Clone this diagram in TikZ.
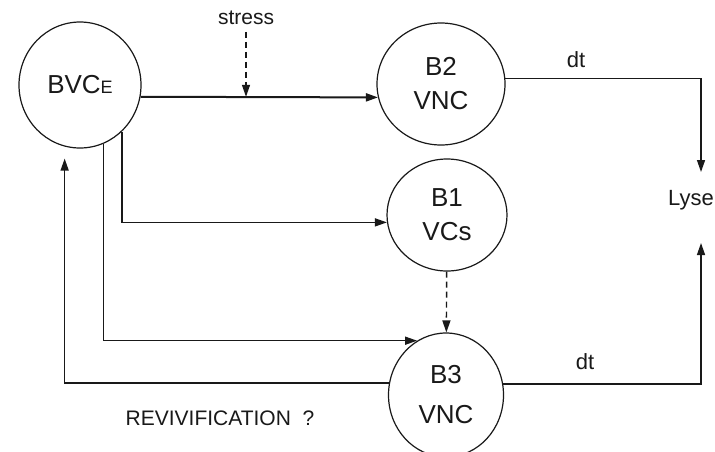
\documentclass[tikz,border=0pt]{standalone}
\usepackage{fontspec}
\setmainfont{Liberation Sans}
\usetikzlibrary{arrows.meta,positioning,calc,shapes.geometric}
\definecolor{ink}{RGB}{25,25,25}
\tikzset{
  cell/.style={draw=ink,ellipse,inner sep=0pt,line width=0.6pt,
    font=\fontsize{13}{17}\selectfont,align=center,text=ink},
  arr/.style={-{Triangle[length=6pt,width=4pt]},line width=0.7pt,ink},
  lbl/.style={font=\fontsize{11}{13}\selectfont,text=ink},
  small/.style={font=\fontsize{10.5}{12}\selectfont,text=ink},
}

\begin{document}
\begin{tikzpicture}[x=0.5pt,y=-0.5pt]
  \useasboundingbox[fill=white] (0,0) rectangle (715,451);
  \node[cell,minimum width=61pt,minimum height=63pt] (bvce) at (80,85) {BVC{\fontsize{9}{9}\selectfont E}};
  \node[cell,minimum width=64pt,minimum height=61pt] (b2) at (441,84) {B2\\VNC};
  \node[cell,minimum width=60pt,minimum height=56pt] (b1) at (447,215) {B1\\VCs};
  \node[cell,minimum width=57.5pt,minimum height=62pt] (b3) at (446,395) {B3\\[3pt]VNC};
  \node[lbl] (lyse) at (691,200) {Lyse};
  \node[small] (stress) at (246,18) {stress};
  \node[lbl] at (576,60) {dt};
  \node[lbl] at (585,362) {dt};
  \node[small] at (220,418) {REVIVIFICATION \ ?};
  \coordinate (lyseA) at (701,172);
  \coordinate (lyseB) at (701,243);
  \draw[arr,line width=1pt] (bvce.-11) -- (b2.192);
  \draw[arr,densely dashed] (stress.south) -- (stress.south |- bvce.-11);
  \draw[arr] (bvce.-48) |- (b1.187);
  \draw[arr] (bvce.-68) |- (b3.118);
  \draw[arr,shorten >=6pt] (b3.168) -| (bvce.-104);
  \draw[arr,densely dashed] (b1) -- (b3);
  \draw[arr] (b2.5) -| (lyseA);
  \draw[arr] (b3.11) -| (lyseB);
\end{tikzpicture}
\end{document}
